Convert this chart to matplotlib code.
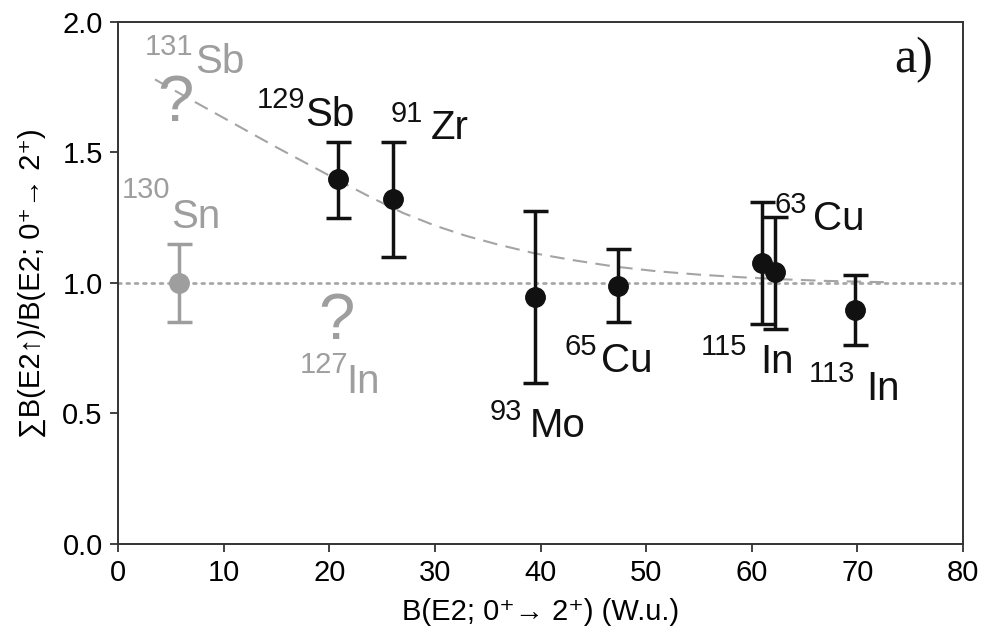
import numpy as np
import matplotlib
matplotlib.use('Agg')
import matplotlib.pyplot as plt

plt.rcParams['font.family'] = ['Liberation Sans', 'DejaVu Sans']

# measured points: B(E2; 0+ -> 2+) in W.u. and summed strength ratio
nuclei = ['129Sb', '91Zr', '93Mo', '65Cu', '115In', '63Cu', '113In']
be2 = [20.8, 26.0, 39.5, 47.3, 61.0, 62.2, 69.8]
ratio = [1.40, 1.32, 0.945, 0.99, 1.077, 1.042, 0.897]
err_lo = [0.15, 0.22, 0.33, 0.14, 0.235, 0.22, 0.135]
err_hi = [0.14, 0.22, 0.33, 0.14, 0.235, 0.21, 0.135]

# reference nucleus 130Sn
sn_be2 = [5.8]
sn_ratio = [1.0]
sn_err = [0.15]

# trend curve
trend_x = [3.5, 7, 11, 15, 18, 21, 24, 27, 30, 33, 36, 39.5, 43, 47, 51,
           55, 59, 63, 67, 72.5]
trend_y = [1.78, 1.70, 1.61, 1.52, 1.455, 1.39, 1.327, 1.268, 1.22, 1.18,
           1.147, 1.113, 1.088, 1.063, 1.045, 1.032, 1.022, 1.014, 1.008,
           1.003]

BLACK = '#111111'
GREY = '#9e9e9e'

# (mass, element, mass right x, mass baseline, element left x, element baseline, colour)
labels = [
    ('131', 'Sb', 7.1, 1.874, 7.3, 1.805, GREY),
    ('130', 'Sn', 4.9, 1.326, 5.0, 1.211, GREY),
    ('127', 'In', 21.8, 0.655, 21.6, 0.579, GREY),
    ('129', 'Sb', 17.7, 1.670, 17.7, 1.602, BLACK),
    ('91', 'Zr', 28.9, 1.617, 29.6, 1.552, BLACK),
    ('93', 'Mo', 38.25, 0.475, 39.0, 0.410, BLACK),
    ('65', 'Cu', 45.35, 0.724, 45.7, 0.659, BLACK),
    ('115', 'In', 59.6, 0.724, 60.8, 0.655, BLACK),
    ('63', 'Cu', 65.2, 1.268, 65.8, 1.203, BLACK),
    ('113', 'In', 69.8, 0.621, 70.8, 0.552, BLACK),
]
question_marks = [(5.4, 1.62), (20.7, 0.785)]

fig = plt.figure(figsize=(9.86, 6.34), dpi=100)
ax = fig.add_axes([0.1197, 0.142, 0.857, 0.8233])

ax.axhline(1.0, color='#a8a8a8', lw=2, ls=(0, (1, 2)), dash_capstyle='round',
           zorder=1)
ax.plot(trend_x, trend_y, color='#a4a4a4', lw=1.5, ls=(0, (7, 4)), zorder=1)

ax.errorbar(sn_be2, sn_ratio, yerr=sn_err, fmt='o', color=GREY, ms=14,
            elinewidth=2.5, capsize=9, capthick=2.5, zorder=3)
ax.errorbar(be2, ratio, yerr=[err_lo, err_hi], fmt='o', color=BLACK, ms=14,
            elinewidth=2.5, capsize=9, capthick=2.5, zorder=3)

for mass, elem, mx, my, ex, ey, col in labels:
    ax.text(mx, my, mass, fontsize=21, color=col, ha='right', va='baseline')
    ax.text(ex, ey, elem, fontsize=29, color=col, ha='left', va='baseline')
for qx, qy in question_marks:
    ax.text(qx, qy, '?', fontsize=47, color=GREY, ha='center', va='baseline')

ax.text(77.2, 1.808, 'a)', fontsize=36, family='Liberation Serif',
        ha='right', va='baseline', color=BLACK)

ax.set_xlim(0, 80)
ax.set_ylim(0, 2.0)
ax.set_xticks(np.arange(0, 81, 10))
ax.set_yticks([0.0, 0.5, 1.0, 1.5, 2.0])
ax.tick_params(labelsize=21, length=6, width=1.3, color='#333333', pad=5)
for sp in ax.spines.values():
    sp.set_color('#333333')
    sp.set_linewidth(1.4)

ax.set_xlabel('B(E2; 0⁺→ 2⁺) (W.u.)', fontsize=21, labelpad=8)
ax.set_ylabel('∑B(E2↑)/B(E2; 0⁺→ 2⁺)', fontsize=21, labelpad=12)

fig.savefig('out.png', dpi=100)
